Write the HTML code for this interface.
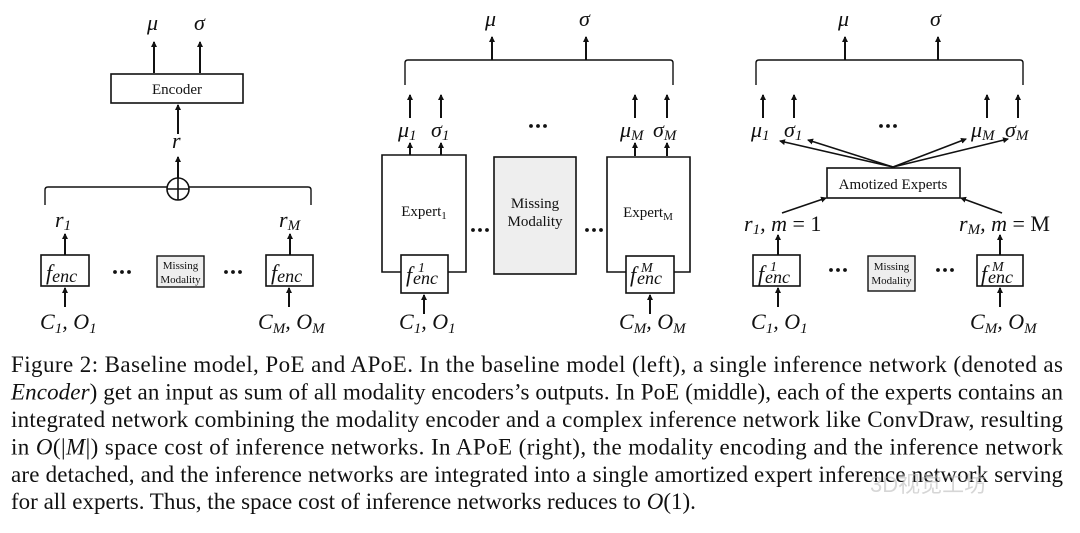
<!DOCTYPE html>
<html><head><meta charset="utf-8"><style>
html,body{margin:0;padding:0;background:#fff;}
svg{display:block;}
.m{font-family:"Liberation Serif",serif;font-style:italic;font-size:22px;fill:#111;}
.s{font-family:"Liberation Serif",serif;font-size:15px;fill:#111;}
.c{font-family:"Liberation Serif",serif;font-size:23px;fill:#111;}
</style></head><body>
<svg width="1080" height="533" viewBox="0 0 1080 533" xmlns="http://www.w3.org/2000/svg">
<defs><marker id="a" markerWidth="6" markerHeight="6" refX="5" refY="3" orient="auto" markerUnits="userSpaceOnUse"><path d="M0,0 L6,3 L0,6 z" fill="#111"/></marker>
<g id="d" fill="#111"><circle cx="-7" cy="0" r="1.9"/><circle cx="0" cy="0" r="1.9"/><circle cx="7" cy="0" r="1.9"/></g>
</defs>
<g stroke="#111" stroke-width="2" fill="none">
<!-- LEFT -->
<line x1="154" y1="73" x2="154" y2="42" marker-end="url(#a)"/>
<line x1="200" y1="73" x2="200" y2="42" marker-end="url(#a)"/>
<rect x="111" y="74" width="132" height="29" stroke-width="1.6"/>
<line x1="178" y1="134" x2="178" y2="105" marker-end="url(#a)"/>
<line x1="178" y1="178" x2="178" y2="157" marker-end="url(#a)"/>
<circle cx="178" cy="189" r="11" stroke-width="1.6"/>
<line x1="167" y1="189" x2="189" y2="189" stroke-width="1.6"/>
<line x1="178" y1="178" x2="178" y2="200" stroke-width="1.6"/>
<path d="M45,205 V190 Q45,187 48,187 H167 M189,187 H308 Q311,187 311,190 V205" stroke-width="1.4"/>
<line x1="65" y1="255" x2="65" y2="234" marker-end="url(#a)"/>
<line x1="290" y1="255" x2="290" y2="234" marker-end="url(#a)"/>
<rect x="41" y="255" width="48" height="31" stroke-width="1.6"/>
<rect x="266" y="255" width="47" height="31" stroke-width="1.6"/>
<rect x="157" y="256" width="47" height="31" fill="#eee" stroke-width="1.4"/>
<line x1="65" y1="307" x2="65" y2="288" marker-end="url(#a)"/>
<line x1="289" y1="307" x2="289" y2="288" marker-end="url(#a)"/>
<!-- MIDDLE -->
<line x1="492" y1="60" x2="492" y2="37" marker-end="url(#a)"/>
<line x1="586" y1="60" x2="586" y2="37" marker-end="url(#a)"/>
<path d="M405,85 V63 Q405,60 408,60 H670 Q673,60 673,63 V85" stroke-width="1.4"/>
<line x1="410" y1="118" x2="410" y2="95" marker-end="url(#a)"/>
<line x1="441" y1="118" x2="441" y2="95" marker-end="url(#a)"/>
<line x1="635" y1="118" x2="635" y2="95" marker-end="url(#a)"/>
<line x1="667" y1="118" x2="667" y2="95" marker-end="url(#a)"/>
<line x1="410" y1="155" x2="410" y2="143" marker-end="url(#a)"/>
<line x1="441" y1="155" x2="441" y2="143" marker-end="url(#a)"/>
<line x1="635" y1="156" x2="635" y2="143" marker-end="url(#a)"/>
<line x1="667" y1="156" x2="667" y2="143" marker-end="url(#a)"/>
<path d="M401,272 H382 V155 H466 V272 H448" stroke-width="1.6"/>
<rect x="401" y="255" width="47" height="38" stroke-width="1.6"/>
<rect x="494" y="157" width="82" height="117" fill="#eee" stroke-width="1.6"/>
<path d="M626,272 H607 V157 H690 V272 H674" stroke-width="1.6"/>
<rect x="626" y="256" width="48" height="37" stroke-width="1.6"/>
<line x1="424" y1="314" x2="424" y2="295" marker-end="url(#a)"/>
<line x1="650" y1="314" x2="650" y2="295" marker-end="url(#a)"/>
<!-- RIGHT -->
<line x1="845" y1="60" x2="845" y2="37" marker-end="url(#a)"/>
<line x1="938" y1="60" x2="938" y2="37" marker-end="url(#a)"/>
<path d="M756,85 V63 Q756,60 759,60 H1020 Q1023,60 1023,63 V85" stroke-width="1.4"/>
<line x1="763" y1="118" x2="763" y2="95" marker-end="url(#a)"/>
<line x1="794" y1="118" x2="794" y2="95" marker-end="url(#a)"/>
<line x1="987" y1="118" x2="987" y2="95" marker-end="url(#a)"/>
<line x1="1018" y1="118" x2="1018" y2="95" marker-end="url(#a)"/>
<g stroke-width="1.6">
<line x1="893" y1="167" x2="780" y2="141" marker-end="url(#a)"/>
<line x1="893" y1="167" x2="808" y2="140" marker-end="url(#a)"/>
<line x1="893" y1="167" x2="966" y2="139" marker-end="url(#a)"/>
<line x1="893" y1="167" x2="1008" y2="139" marker-end="url(#a)"/>
<line x1="782" y1="213" x2="826" y2="198" marker-end="url(#a)"/>
<line x1="1002" y1="213" x2="961" y2="198" marker-end="url(#a)"/>
</g>
<rect x="827" y="168" width="133" height="30" stroke-width="1.6"/>
<line x1="778" y1="255" x2="778" y2="235" marker-end="url(#a)"/>
<line x1="1000" y1="255" x2="1000" y2="235" marker-end="url(#a)"/>
<rect x="753" y="255" width="47" height="31" stroke-width="1.6"/>
<rect x="977" y="255" width="46" height="31" stroke-width="1.6"/>
<rect x="868" y="256" width="47" height="35" fill="#eee" stroke-width="1.4"/>
<line x1="778" y1="307" x2="778" y2="288" marker-end="url(#a)"/>
<line x1="1000" y1="307" x2="1000" y2="288" marker-end="url(#a)"/>
</g>
<!-- labels -->
<g class="m">
<text x="147" y="30">μ</text><text x="194" y="30">σ</text>
<text x="172" y="148">r</text>
<text x="55" y="227">r<tspan font-size="15" dy="3">1</tspan></text>
<text x="279" y="227">r<tspan font-size="15" dy="3">M</tspan></text>
<text x="46" y="280">f<tspan font-size="18" dy="2">enc</tspan></text>
<text x="271" y="280">f<tspan font-size="18" dy="2">enc</tspan></text>
<text x="40" y="329">C<tspan font-size="15" dy="4">1</tspan><tspan dy="-4">, O</tspan><tspan font-size="15" dy="4">1</tspan></text>
<text x="258" y="329">C<tspan font-size="15" dy="4">M</tspan><tspan dy="-4">, O</tspan><tspan font-size="15" dy="4">M</tspan></text>

<text x="485" y="26">μ</text><text x="579" y="26">σ</text>
<text x="398" y="137">μ<tspan font-size="15" dy="3">1</tspan></text>
<text x="431" y="137">σ<tspan font-size="15" dy="3">1</tspan></text>
<text x="620" y="137">μ<tspan font-size="15" dy="3">M</tspan></text>
<text x="653" y="137">σ<tspan font-size="15" dy="3">M</tspan></text>
<text x="406" y="282">f</text><text x="418" y="272" font-size="14">1</text><text x="413" y="284" font-size="18">enc</text>
<text x="630" y="282">f</text><text x="641" y="272" font-size="14">M</text><text x="637" y="284" font-size="18">enc</text>
<text x="399" y="329">C<tspan font-size="15" dy="4">1</tspan><tspan dy="-4">, O</tspan><tspan font-size="15" dy="4">1</tspan></text>
<text x="619" y="329">C<tspan font-size="15" dy="4">M</tspan><tspan dy="-4">, O</tspan><tspan font-size="15" dy="4">M</tspan></text>

<text x="838" y="26">μ</text><text x="930" y="26">σ</text>
<text x="751" y="137">μ<tspan font-size="15" dy="3">1</tspan></text>
<text x="784" y="137">σ<tspan font-size="15" dy="3">1</tspan></text>
<text x="971" y="137">μ<tspan font-size="15" dy="3">M</tspan></text>
<text x="1005" y="137">σ<tspan font-size="15" dy="3">M</tspan></text>
<text x="744" y="231">r<tspan font-size="15" dy="3">1</tspan><tspan dy="-3">, m </tspan><tspan font-style="normal">= 1</tspan></text>
<text x="959" y="231">r<tspan font-size="15" dy="3">M</tspan><tspan dy="-3">, m </tspan><tspan font-style="normal">= M</tspan></text>
<text x="758" y="281">f</text><text x="770" y="271" font-size="14">1</text><text x="765" y="283" font-size="18">enc</text>
<text x="981" y="281">f</text><text x="992" y="271" font-size="14">M</text><text x="988" y="283" font-size="18">enc</text>
<text x="751" y="329">C<tspan font-size="15" dy="4">1</tspan><tspan dy="-4">, O</tspan><tspan font-size="15" dy="4">1</tspan></text>
<text x="970" y="329">C<tspan font-size="15" dy="4">M</tspan><tspan dy="-4">, O</tspan><tspan font-size="15" dy="4">M</tspan></text>
</g>
<g class="s">
<text x="177" y="94" text-anchor="middle">Encoder</text>
<text x="424" y="216" text-anchor="middle">Expert<tspan font-size="11" dy="3">1</tspan></text>
<text x="648" y="217" text-anchor="middle">Expert<tspan font-size="11" dy="3">M</tspan></text>
<text x="535" y="208" text-anchor="middle">Missing</text>
<text x="535" y="226" text-anchor="middle">Modality</text>
<text x="893" y="189" text-anchor="middle">Amotized Experts</text>
<g font-size="11" text-anchor="middle">
<text x="180.5" y="269">Missing</text><text x="180.5" y="283">Modality</text>
<text x="891.5" y="270">Missing</text><text x="891.5" y="284">Modality</text>
</g>
</g>
<use href="#d" x="122" y="272"/><use href="#d" x="233" y="272"/>
<use href="#d" x="538" y="126"/>
<use href="#d" x="480" y="230"/><use href="#d" x="594" y="230"/>
<use href="#d" x="888" y="126"/>
<use href="#d" x="838" y="270"/><use href="#d" x="945" y="270"/>
<!-- caption -->
<g class="c">
<text x="11" y="372" textLength="1052" lengthAdjust="spacing">Figure 2: Baseline model, PoE and APoE. In the baseline model (left), a single inference network (denoted as</text>
<text x="11" y="399.5" textLength="1052" lengthAdjust="spacing"><tspan font-style="italic">Encoder</tspan>) get an input as sum of all modality encoders’s outputs. In PoE (middle), each of the experts contains an</text>
<text x="11" y="427" textLength="1052" lengthAdjust="spacing">integrated network combining the modality encoder and a complex inference network like ConvDraw, resulting</text>
<text x="11" y="454.5" textLength="1052" lengthAdjust="spacing">in <tspan font-style="italic">O</tspan>(|<tspan font-style="italic">M</tspan>|) space cost of inference networks. In APoE (right), the modality encoding and the inference network</text>
<text x="11" y="482" textLength="1052" lengthAdjust="spacing">are detached, and the inference networks are integrated into a single amortized expert inference network serving</text>
<text x="11" y="509">for all experts. Thus, the space cost of inference networks reduces to <tspan font-style="italic">O</tspan>(1).</text>
</g>
<text x="870" y="492" font-family="Liberation Sans,Noto Sans CJK SC,sans-serif" font-size="22" fill="#bbb" opacity="0.6">3D视觉工坊</text>
</svg>
</body></html>
